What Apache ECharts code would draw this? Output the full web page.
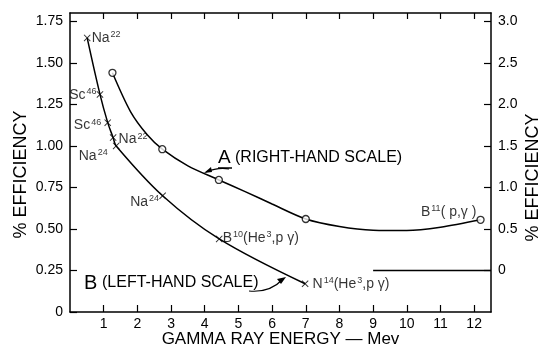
<!DOCTYPE html>
<html>
<head>
<meta charset="utf-8">
<script src="https://cdn.jsdelivr.net/npm/echarts@6/dist/echarts.min.js"></script>
<style>
  html, body { margin: 0; padding: 0; background: #fff; }
  #main { width: 542px; height: 349px; }
</style>
</head>
<body>
<div id="main"></div>
<script>
// curve B (left-hand scale), crosses
var bEnergy = [0.51, 0.89, 1.12, 1.28, 1.37, 2.75, 4.43, 6.98];
var bEff = [1.65, 1.31, 1.14, 1.05, 1.00, 0.70, 0.44, 0.17];
var bNames = ['Na22', 'Sc46', 'Sc46', 'Na22', 'Na24', 'Na24', 'B10', 'N14'];

// curve A (right-hand scale), circles
var aEnergy = [1.26, 2.74, 4.42, 7.0, 12.19];
var aEff = [2.38, 1.46, 1.09, 0.62, 0.61];

// fitted curve A as drawn
var aLineEnergy = [1.26, 1.8, 2.3, 2.74, 3.5, 4.42, 5.2, 6.0, 7.0, 8.0, 9.0, 10.0, 11.0, 12.19];
var aLineEff = [2.38, 1.91, 1.63, 1.46, 1.26, 1.09, 0.95, 0.80, 0.62, 0.53, 0.485, 0.48, 0.52, 0.61];

// zero line of the right-hand scale
var zeroLineEnergy = [9, 12.5];
var zeroLineEff = [0, 0];

var xTicks = [1, 2, 3, 4, 5, 6, 7, 8, 9, 10, 11, 12];
var leftTicks = [0, 0.25, 0.5, 0.75, 1.0, 1.25, 1.5, 1.75];
var rightTicks = [0, 0.5, 1.0, 1.5, 2.0, 2.5, 3.0];

var FONT = 'Liberation Sans';
var INK = '#000';

function pairs(xs, ys) {
    return xs.map(function (x, i) { return [x, ys[i]]; });
}

var rich = {
    n: { fontFamily: FONT, fontSize: 14, color: INK, lineHeight: 16 },
    s: { fontFamily: FONT, fontSize: 9, color: INK, verticalAlign: 'top', lineHeight: 16, padding: [0, 0, 7, 1] }
};

var bLabels = {
    'Na22': '{n|Na}{s|22}',
    'Sc46': '{n|Sc}{s|46}',
    'Na24': '{n|Na}{s|24}',
    'B10': '{n|B}{s|10}{n|(He}{s|3}{n|,p γ)}',
    'N14': '{n|N}{s|14}{n|(He}{s|3}{n|,p γ)}'
};
var bLabelPos = [
    { position: 'right', offset: [-4, 0] },
    { position: 'left', offset: [5, 1] },
    { position: 'left', offset: [2, 3] },
    { position: 'right', offset: [-3, 2] },
    { position: 'left', offset: [0, 10] },
    { position: 'left', offset: [5, 6] },
    { position: 'right', offset: [-5, -1] },
    { position: 'right', offset: [-1, 0] }
];

var bData = bEnergy.map(function (x, i) {
    return {
        value: [x, bEff[i]],
        label: {
            show: true,
            position: bLabelPos[i].position,
            offset: bLabelPos[i].offset,
            formatter: bLabels[bNames[i]],
            rich: rich
        }
    };
});

var aData = pairs(aEnergy, aEff).map(function (p, i) {
    if (i === aEnergy.length - 1) {
        return {
            value: p,
            label: {
                show: true, position: 'left', offset: [5, -8],
                formatter: '{n|B}{s|11}{n|( p,γ )}', rich: rich
            }
        };
    }
    return p;
});

var crossPath = 'path://M1,0 L5,4 L9,0 L10,1 L6,5 L10,9 L9,10 L5,6 L1,10 L0,9 L4,5 L0,1Z';

var myChart = echarts.init(document.getElementById('main'), null, { renderer: 'canvas' });

var axisLineStyle = { color: INK, width: 1.5 };
var tickStyle = { color: INK, width: 1.2 };

var option = {
    backgroundColor: '#fff',
    animation: false,
    grid: { left: 70, right: 51, top: 13, bottom: 37, outerBoundsMode: 'none', containLabel: false },
    xAxis: [
        {
            type: 'value', min: 0, max: 12.5, interval: 1,
            name: 'GAMMA RAY ENERGY — Mev',
            nameLocation: 'middle', nameGap: 19, nameMoveOverlap: false,
            nameTextStyle: { fontFamily: FONT, fontSize: 17, color: INK },
            axisLine: { show: true, onZero: false, lineStyle: axisLineStyle },
            axisTick: { inside: true, length: 7, lineStyle: tickStyle, customValues: xTicks },
            axisLabel: { color: INK, fontFamily: FONT, fontSize: 14, margin: 5, customValues: xTicks },
            splitLine: { show: false }
        },
        {
            type: 'value', min: 0, max: 12.5, interval: 1, position: 'top',
            axisLine: { show: true, onZero: false, lineStyle: axisLineStyle },
            axisTick: { inside: true, length: 6, lineStyle: tickStyle, customValues: xTicks },
            axisLabel: { show: false },
            splitLine: { show: false }
        }
    ],
    yAxis: [
        {
            type: 'value', min: 0, max: 1.8, interval: 0.25, position: 'left',
            name: '% EFFICIENCY',
            nameLocation: 'middle', nameGap: 40, nameRotate: 90, nameMoveOverlap: false,
            nameTextStyle: { fontFamily: FONT, fontSize: 18, color: INK, padding: [0, 0, 0, -24] },
            axisLine: { show: true, onZero: false, lineStyle: axisLineStyle },
            axisTick: { inside: true, length: 7, lineStyle: tickStyle, customValues: leftTicks },
            axisLabel: {
                color: INK, fontFamily: FONT, fontSize: 14, margin: 7, customValues: leftTicks,
                formatter: function (v) { return v === 0 ? '0' : v.toFixed(2); }
            },
            splitLine: { show: false }
        },
        {
            type: 'value', min: -0.5, max: 3.1, interval: 0.5, position: 'right',
            name: '% EFFICIENCY',
            nameLocation: 'middle', nameGap: 33, nameRotate: 90, nameMoveOverlap: false,
            nameTextStyle: { fontFamily: FONT, fontSize: 18, color: INK, padding: [0, 0, 0, -30] },
            axisLine: { show: true, onZero: false, lineStyle: axisLineStyle },
            axisTick: { inside: true, length: 7, lineStyle: tickStyle, customValues: rightTicks },
            axisLabel: {
                color: INK, fontFamily: FONT, fontSize: 14, margin: 7, customValues: rightTicks,
                formatter: function (v) { return v === 0 ? '0' : v.toFixed(1); }
            },
            splitLine: { show: false }
        }
    ],
    series: [
        {
            name: 'B line', type: 'line', yAxisIndex: 0, smooth: 0.35,
            data: pairs(bEnergy, bEff), showSymbol: false, silent: true,
            lineStyle: { color: INK, width: 1.5 }
        },
        {
            name: 'B', type: 'scatter', yAxisIndex: 0,
            data: bData, symbol: crossPath, symbolSize: 7,
            itemStyle: { color: INK }
        },
        {
            name: 'A line', type: 'line', yAxisIndex: 1, smooth: 0.3,
            data: pairs(aLineEnergy, aLineEff), showSymbol: false, silent: true,
            lineStyle: { color: INK, width: 1.5 }
        },
        {
            name: 'A', type: 'scatter', yAxisIndex: 1,
            data: aData, symbol: 'circle', symbolSize: 7, z: 5,
            itemStyle: { color: '#fff', borderColor: INK, borderWidth: 1.3 }
        },
        {
            name: 'zero', type: 'line', yAxisIndex: 1,
            data: pairs(zeroLineEnergy, zeroLineEff), showSymbol: false, silent: true,
            lineStyle: { color: INK, width: 1.5 }
        }
    ],
    graphic: [
        // A (RIGHT-HAND SCALE)
        { type: 'text', left: 218, top: 148, style: { text: 'A', font: '19px "' + FONT + '"', fill: INK } },
        { type: 'line', shape: { x1: 218, y1: 168, x2: 232, y2: 168 }, style: { stroke: INK, lineWidth: 1.5 } },
        { type: 'text', left: 235, top: 150, style: { text: '(RIGHT-HAND SCALE)', font: '16px "' + FONT + '"', fill: INK } },
        { type: 'bezierCurve', shape: { x1: 229, y1: 169, x2: 206, y2: 172, cpx1: 218, cpy1: 167 }, style: { stroke: INK, lineWidth: 1.2, fill: 'none' } },
        { type: 'polygon', shape: { points: [[204, 173], [211, 167], [212, 172]] }, style: { fill: INK } },
        // B (LEFT-HAND SCALE)
        { type: 'text', left: 84, top: 273, style: { text: 'B', font: '20px "' + FONT + '"', fill: INK } },
        { type: 'text', left: 102, top: 275, style: { text: '(LEFT-HAND SCALE)', font: '16px "' + FONT + '"', fill: INK } },
        { type: 'bezierCurve', shape: { x1: 249, y1: 291, x2: 283, y2: 279, cpx1: 270, cpy1: 293 }, style: { stroke: INK, lineWidth: 1.2, fill: 'none' } },
        { type: 'polygon', shape: { points: [[286, 277], [277, 279], [281, 284]] }, style: { fill: INK } }
    ]
};

myChart.setOption(option);

window.addEventListener('resize', function () {
    myChart.resize();
});
</script>
</body>
</html>
